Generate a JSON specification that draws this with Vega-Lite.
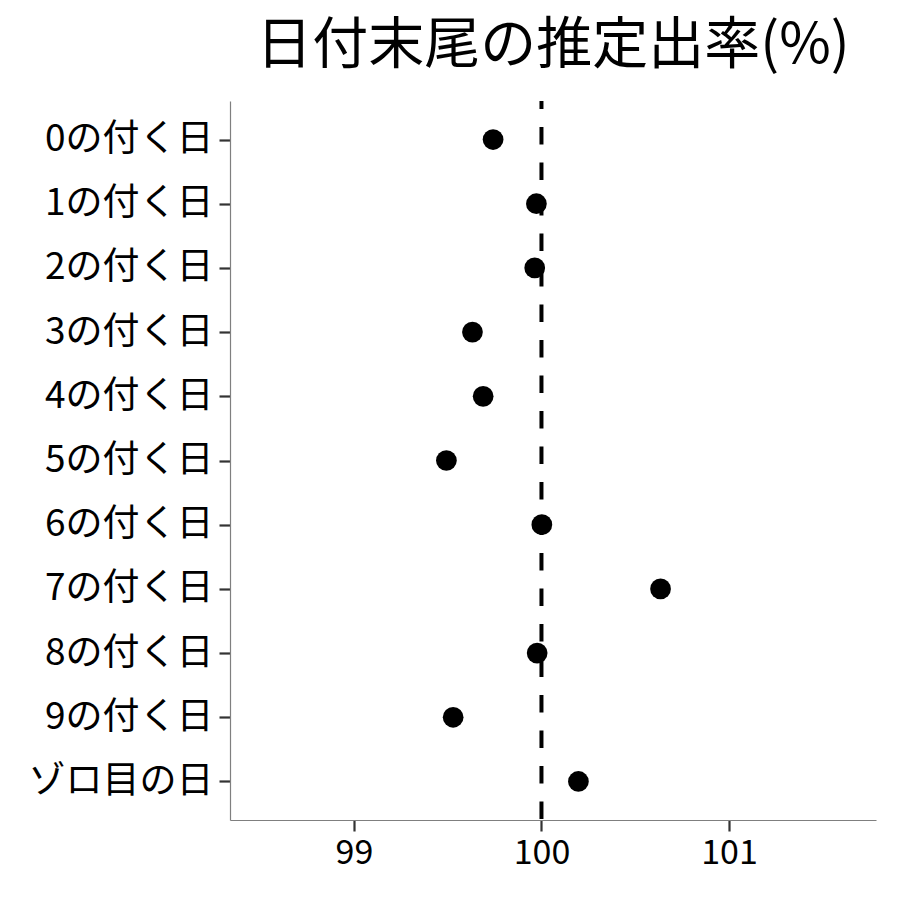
{
  "$schema": "https://vega.github.io/schema/vega-lite/v6.json",
  "autosize": {"type": "none"},
  "width": 646,
  "height": 719,
  "padding": {"left": 230, "top": 101, "right": 24, "bottom": 80},
  "background": "white",
  "config": {
    "view": {"stroke": null},
    "font": "Noto Sans CJK JP"
  },
  "title": {
    "text": "日付末尾の推定出率(%)",
    "anchor": "middle",
    "fontSize": 56,
    "fontWeight": "normal",
    "font": "Noto Sans CJK JP",
    "color": "#000000",
    "baseline": "alphabetic",
    "offset": -20
  },
  "data": {
    "values": [
      {"label": "0の付く日", "rate": 99.742},
      {"label": "1の付く日", "rate": 99.973},
      {"label": "2の付く日", "rate": 99.964},
      {"label": "3の付く日", "rate": 99.632},
      {"label": "4の付く日", "rate": 99.689},
      {"label": "5の付く日", "rate": 99.493},
      {"label": "6の付く日", "rate": 100.002},
      {"label": "7の付く日", "rate": 100.635},
      {"label": "8の付く日", "rate": 99.977},
      {"label": "9の付く日", "rate": 99.529},
      {"label": "ゾロ目の日", "rate": 100.197}
    ]
  },
  "layer": [
    {
      "mark": {"type": "rule", "color": "#000000", "strokeWidth": 4, "strokeDash": [17.5, 18], "strokeDashOffset": 9.5},
      "data": {"values": [{"ref": 100}]},
      "encoding": {
        "x": {"field": "ref", "type": "quantitative"}
      }
    },
    {
      "mark": {"type": "circle", "color": "#000000", "opacity": 1, "size": 430},
      "encoding": {
        "x": {
          "field": "rate",
          "type": "quantitative",
          "scale": {"domain": [98.339, 101.784], "nice": false, "zero": false},
          "axis": {
            "title": null,
            "values": [99, 100, 101],
            "format": "d",
            "grid": false,
            "domainColor": "#7f7f7f",
            "domainWidth": 1.2,
            "tickColor": "#333333",
            "tickWidth": 2.2,
            "tickSize": 11,
            "labelFontSize": 34,
            "labelColor": "#000000",
            "labelPadding": 5,
            "labelFont": "Noto Sans CJK JP"
          }
        },
        "y": {
          "field": "label",
          "type": "nominal",
          "sort": null,
          "scale": {"type": "point", "padding": 0.6},
          "axis": {
            "title": null,
            "grid": false,
            "domainColor": "#7f7f7f",
            "domainWidth": 1.2,
            "tickColor": "#333333",
            "tickWidth": 2.2,
            "tickSize": 11,
            "labelFontSize": 37,
            "labelLimit": 400,
            "labelColor": "#000000",
            "labelPadding": 6,
            "labelFont": "Noto Sans CJK JP"
          }
        }
      }
    }
  ]
}
